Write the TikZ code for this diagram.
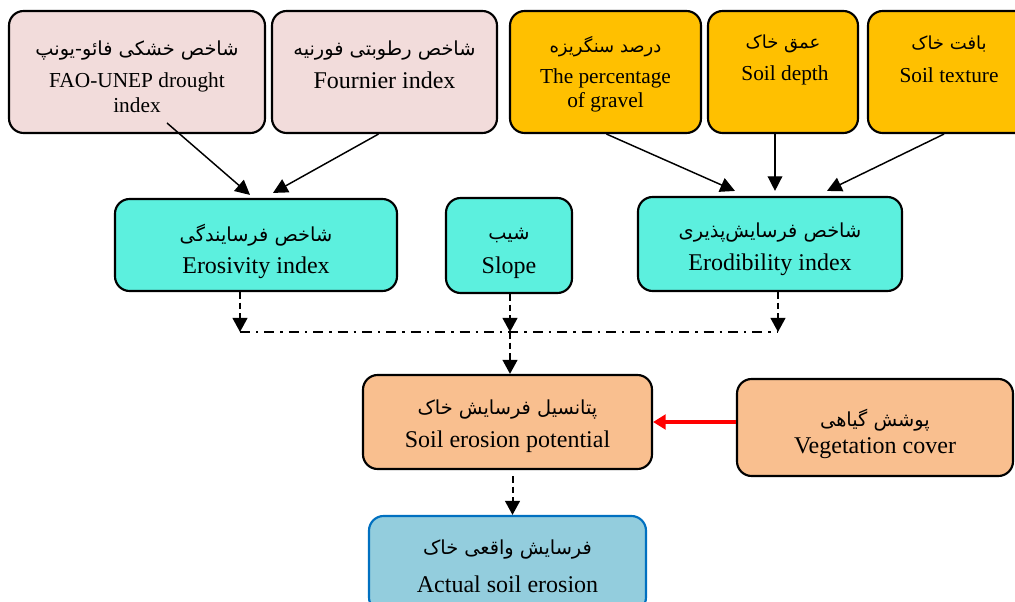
\documentclass[tikz,border=0pt]{standalone}
\usepackage{fontspec}
\setmainfont{Liberation Serif}
\newfontfamily\fafont[Script=Arabic]{DejaVu Sans}
\TeXXeTstate=1
\usetikzlibrary{arrows.meta,calc}
\definecolor{pinkf}{HTML}{F2DCDB}
\definecolor{goldf}{HTML}{FFC000}
\definecolor{cyanf}{HTML}{5CF0DE}
\definecolor{peachf}{HTML}{F9BF8F}
\definecolor{bluef}{HTML}{93CDDD}
\definecolor{blued}{HTML}{0070C0}
\newcommand{\fa}[1]{{\fafont\beginR #1\endR}}
\tikzset{
  box/.style={draw=black, line width=1.6pt, rounded corners=11pt, inner sep=0pt},
  pinkbox/.style={box, fill=pinkf},
  goldbox/.style={box, fill=goldf},
  cyanbox/.style={box, fill=cyanf},
  peachbox/.style={box, fill=peachf},
  bluebox/.style={box, fill=bluef, draw=blued},
  en/.style={font=\fontsize{18}{18.75}\selectfont, align=center, inner sep=0pt},
  ens/.style={font=\fontsize{16}{18.75}\selectfont, align=center, inner sep=0pt},
  ensb/.style={font=\fontsize{16}{18}\selectfont, align=center, inner sep=0pt},
  fat/.style={font=\fontsize{14.5}{15}\selectfont, inner sep=0pt},
  fas/.style={font=\fontsize{13.5}{14}\selectfont, inner sep=0pt},
  solidarrow/.style={line width=1.1pt, -{Triangle[length=11pt,width=11pt]}},
  dasharrow/.style={line width=1.5pt, dash pattern=on 5pt off 3pt, -{Triangle[length=10.5pt,width=11pt]}},
  dashdotline/.style={line width=1.5pt, dash pattern=on 7.5pt off 4.5pt on 1.8pt off 4.5pt},
  redarrow/.style={red, line width=2.4pt, -{Triangle[length=9.5pt,width=11pt]}}
}
\begin{document}
\begin{tikzpicture}[x=0.75pt,y=-0.75pt]
\useasboundingbox (0,0) rectangle (1015,602);
% top row
\node[pinkbox, minimum width=192pt, minimum height=91.5pt] (fao) at (137,72) {};
\node[pinkbox, minimum width=168.75pt, minimum height=91.5pt] (fournier) at (384.5,72) {};
\node[goldbox, minimum width=143.25pt, minimum height=91.5pt] (gravel) at (605.5,72) {};
\node[goldbox, minimum width=112.5pt, minimum height=91.5pt] (depth) at (783,72) {};
\node[goldbox, minimum width=121.5pt, minimum height=91.5pt] (texture) at (949,72) {};
\node[fat] (faoFa) at (137,51) {\fa{شاخص خشکی فائو-یونپ}};
\node[ens] (faoEn) at (137,93) {FAO-UNEP drought\\index};
\node[fat] (fournierFa) at (384.5,51) {\fa{شاخص رطوبتی فورنیه}};
\node[en] (fournierEn) at (384.5,80) {Fournier index};
\node[fas] (gravelFa) at (605.5,47) {\fa{درصد سنگریزه}};
\node[ensb] (gravelEn) at (605.5,90) {The percentage\\of gravel};
\node[fas] (depthFa) at (783,44) {\fa{عمق خاک}};
\node[ens] (depthEn) at (785,75) {Soil depth};
\node[fas] (textureFa) at (949,44) {\fa{بافت خاک}};
\node[ens] (textureEn) at (949,75) {Soil texture};
% middle row
\node[cyanbox, minimum width=211.5pt, minimum height=69pt] (erosivity) at (256,245) {};
\node[cyanbox, minimum width=94.5pt, minimum height=71.25pt] (slope) at (509,245.5) {};
\node[cyanbox, minimum width=198pt, minimum height=70.5pt] (erodibility) at (770,244) {};
\node[fat] (erosivityFa) at (256,235) {\fa{شاخص فرسایندگی}};
\node[en] (erosivityEn) at (256,268) {Erosivity index};
\node[fat] (slopeFa) at (509,235) {\fa{شیب}};
\node[en] (slopeEn) at (509,268) {Slope};
\node[fat] (erodibilityFa) at (770,233) {\fa{شاخص فرسایش‌پذیری}};
\node[en] (erodibilityEn) at (770,265) {Erodibility index};
% lower boxes
\node[peachbox, minimum width=216.75pt, minimum height=70.5pt] (potential) at (507.5,422) {};
\node[peachbox, minimum width=207pt, minimum height=72.75pt] (vegetation) at (875,427.5) {};
\node[bluebox, minimum width=207.75pt, minimum height=72pt] (actual) at (507.5,564) {};
\node[fat] (potentialFa) at (507.5,410) {\fa{پتانسیل فرسایش خاک}};
\node[en] (potentialEn) at (507.5,442) {Soil erosion potential};
\node[fat] (vegetationFa) at (875,420) {\fa{پوشش گیاهی}};
\node[en] (vegetationEn) at (875,448) {Vegetation cover};
\node[fat] (actualFa) at (507.5,550) {\fa{فرسایش واقعی خاک}};
\node[en] (actualEn) at (507.5,584) {Actual soil erosion};
% solid arrows from top row
\coordinate (faoOut) at (167,123);
\draw[solidarrow] (faoOut) -- ($(erosivity.north)+(-6,-3)$);
\draw[solidarrow] ($(fournier.south)+(-6,0)$) -- ($(erosivity.north)+(17,-5)$);
\draw[solidarrow] ($(gravel.south)+(1,0)$) -- ($(erodibility.north)+(-35,-5)$);
\draw[solidarrow] ($(depth.south)+(-8,0)$) -- ($(erodibility.north)+(5,-5)$);
\draw[solidarrow] ($(texture.south)+(-5,0)$) -- ($(erodibility.north)+(57,-5)$);
% junction
\coordinate (jl) at (240,332);
\coordinate (jc) at (510,332);
\coordinate (jr) at (778,332);
\draw[dasharrow] (jl |- erosivity.south) -- (jl);
\draw[dasharrow] (jc |- slope.south) -- (jc);
\draw[dasharrow] (jr |- erodibility.south) -- (jr);
\draw[dashdotline] (jl) -- (jr);
\draw[dasharrow] (jc) -- (jc |- potential.north);
\draw[dasharrow] ($(potential.south)+(5,6)$) -- ($(actual.north)+(5,0)$);
\draw[redarrow] (potential.east -| vegetation.west) -- (potential.east);
\end{tikzpicture}
\end{document}
